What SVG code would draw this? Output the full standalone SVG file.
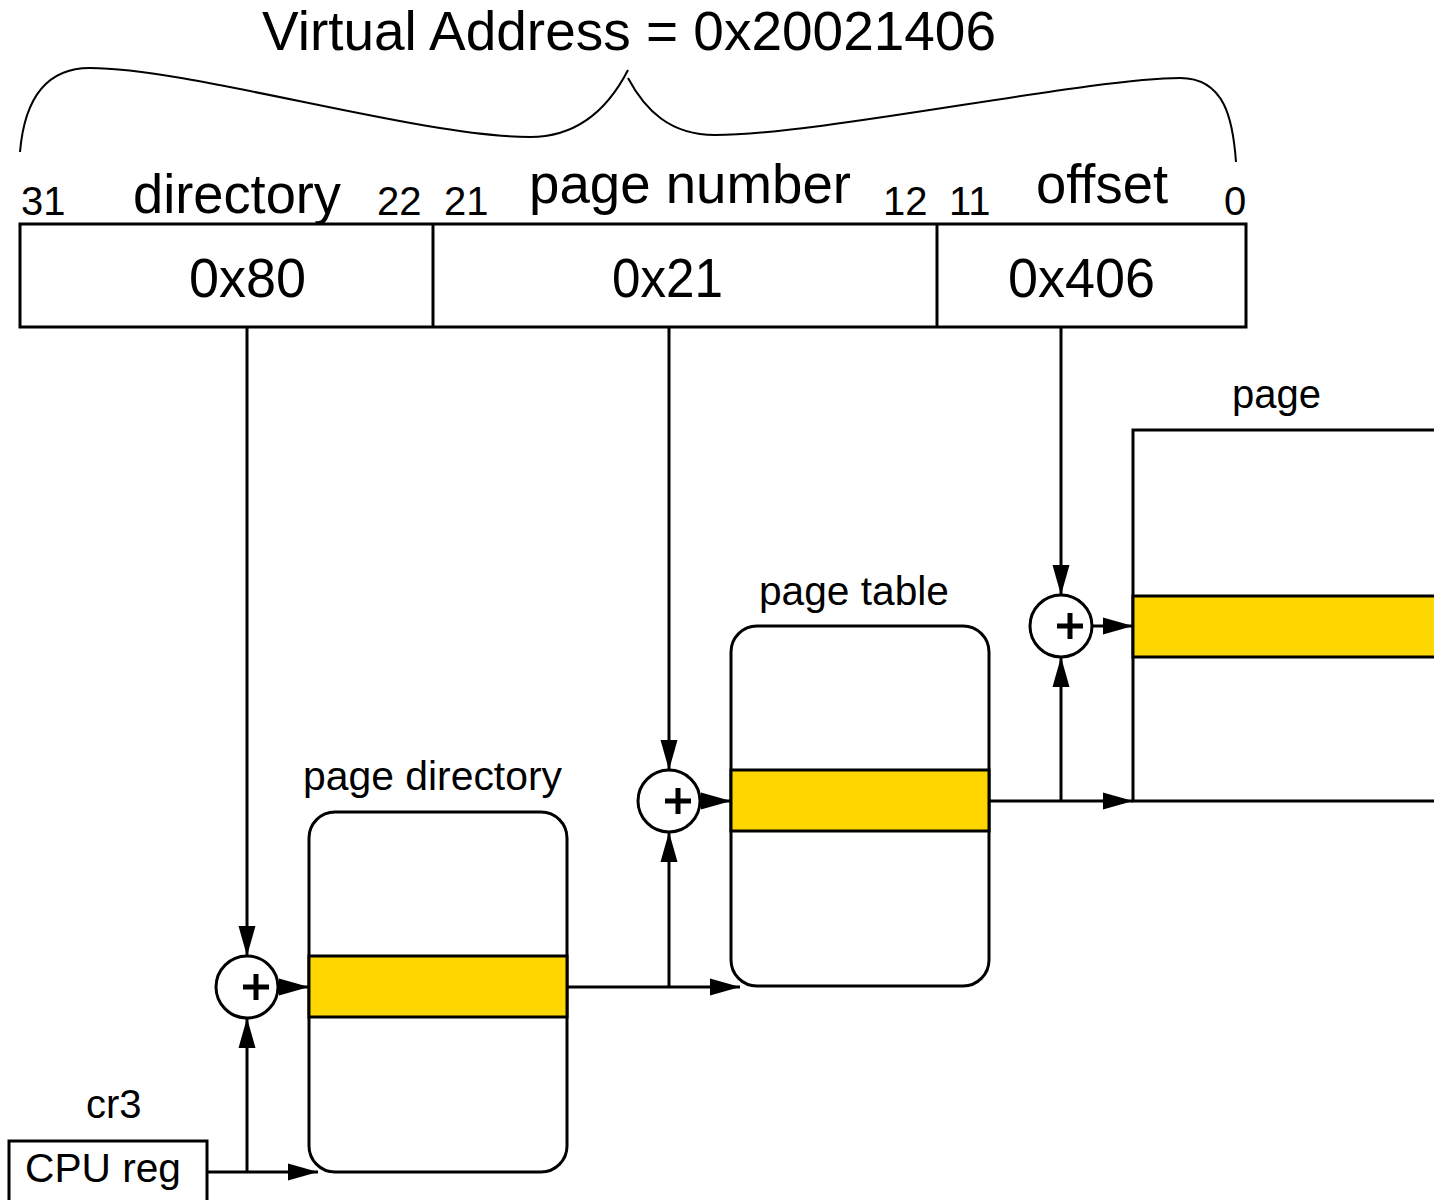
<svg xmlns="http://www.w3.org/2000/svg" width="1434" height="1200" viewBox="0 0 1434 1200">
<style>
  text { font-family: "Liberation Sans", Arial, sans-serif; fill: #000; }
  .big { font-size: 55px; }
  .lbl { font-size: 40px; }
  .box { fill: #fff; stroke: #000; stroke-width: 3; }
  .band { fill: #ffd700; stroke: #000; stroke-width: 3; }
  .ln { fill: none; stroke: #000; stroke-width: 3; }
  .arr { fill: none; stroke: #000; stroke-width: 3; marker-end: url(#ah); }
  .plus { stroke: #000; stroke-width: 5; fill: none; }
</style>
<defs>
  <marker id="ah" markerUnits="userSpaceOnUse" markerWidth="32" markerHeight="20" refX="30" refY="9" orient="auto" viewBox="0 0 32 20">
    <path d="M0,0.5 L30,9 L0,17.5 z" fill="#000"/>
  </marker>
</defs>
<rect width="1434" height="1200" fill="#fff"/>

<g id="title">
  <text class="big" x="262" y="50" textLength="734" lengthAdjust="spacingAndGlyphs">Virtual Address = 0x20021406</text>
  <path class="ln" style="stroke-width:2" d="M20,152 C24,105 42,68 90,68 C190,68 420,137 530,137 C580,137 610,105 628,70"/>
  <path class="ln" style="stroke-width:2" d="M628,78 C645,110 670,135 715,135 C820,135 1090,78 1180,78 C1225,78 1233,120 1236,162"/>
</g>

<g id="address">
  <rect class="box" x="20" y="224" width="1226" height="103"/>
  <line class="ln" x1="433" y1="224" x2="433" y2="327"/>
  <line class="ln" x1="937" y1="224" x2="937" y2="327"/>
  <text class="lbl" x="21" y="215">31</text>
  <text class="big" x="133" y="213" textLength="208" lengthAdjust="spacingAndGlyphs">directory</text>
  <text class="lbl" x="377" y="215">22</text>
  <text class="lbl" x="444" y="215">21</text>
  <text class="big" x="529" y="203" textLength="322" lengthAdjust="spacingAndGlyphs">page number</text>
  <text class="lbl" x="883" y="215">12</text>
  <text class="lbl" x="949" y="215">11</text>
  <text class="big" x="1036" y="203" textLength="132" lengthAdjust="spacingAndGlyphs">offset</text>
  <text class="lbl" x="1224" y="215">0</text>
  <text class="big" x="189" y="297" textLength="117" lengthAdjust="spacingAndGlyphs">0x80</text>
  <text class="big" x="612" y="297" textLength="111" lengthAdjust="spacingAndGlyphs">0x21</text>
  <text class="big" x="1008" y="297" textLength="147" lengthAdjust="spacingAndGlyphs">0x406</text>
</g>

<g id="cr3">
  <text class="lbl" x="86" y="1118">cr3</text>
  <rect class="box" x="9" y="1141" width="198" height="80"/>
  <text class="lbl" x="25" y="1182" textLength="156" lengthAdjust="spacingAndGlyphs">CPU reg</text>
</g>

<g id="page-directory">
  <text class="lbl" x="303" y="790" textLength="259" lengthAdjust="spacingAndGlyphs">page directory</text>
  <rect class="box" x="309" y="812" width="258" height="360" rx="26" ry="26"/>
  <rect class="band" x="309" y="956" width="258" height="61"/>
</g>

<g id="page-table">
  <text class="lbl" x="759" y="605" textLength="190" lengthAdjust="spacingAndGlyphs">page table</text>
  <rect class="box" x="731" y="626" width="258" height="360" rx="26" ry="26"/>
  <rect class="band" x="731" y="770" width="258" height="61"/>
</g>

<g id="page">
  <text class="lbl" x="1232" y="408">page</text>
  <path class="box" d="M1440,430 H1133 V801 H1440"/>
  <rect class="band" x="1133" y="596" width="310" height="61"/>
</g>

<g id="adder1">
  <circle class="box" cx="247" cy="987" r="31"/>
  <path class="plus" d="M243,987 H269 M256,974 V1000"/>
</g>
<g id="adder2">
  <circle class="box" cx="669" cy="801" r="31"/>
  <path class="plus" d="M665,801 H691 M678,788 V814"/>
</g>
<g id="adder3">
  <circle class="box" cx="1061" cy="626" r="31"/>
  <path class="plus" d="M1057,626 H1083 M1070,613 V639"/>
</g>

<g id="connectors">
  <path class="arr" d="M247,327 V956"/>
  <path class="arr" d="M669,327 V770"/>
  <path class="arr" d="M1061,327 V595"/>
  <path class="arr" d="M278,987 H309"/>
  <path class="arr" d="M207,1172 H318"/>
  <path class="arr" d="M247,1172 V1018"/>
  <path class="arr" d="M567,987 H740"/>
  <path class="arr" d="M669,987 V832"/>
  <path class="arr" d="M700,801 H731"/>
  <path class="arr" d="M989,801 H1133"/>
  <path class="arr" d="M1061,801 V657"/>
  <path class="arr" d="M1092,626 H1133"/>
</g>
</svg>
